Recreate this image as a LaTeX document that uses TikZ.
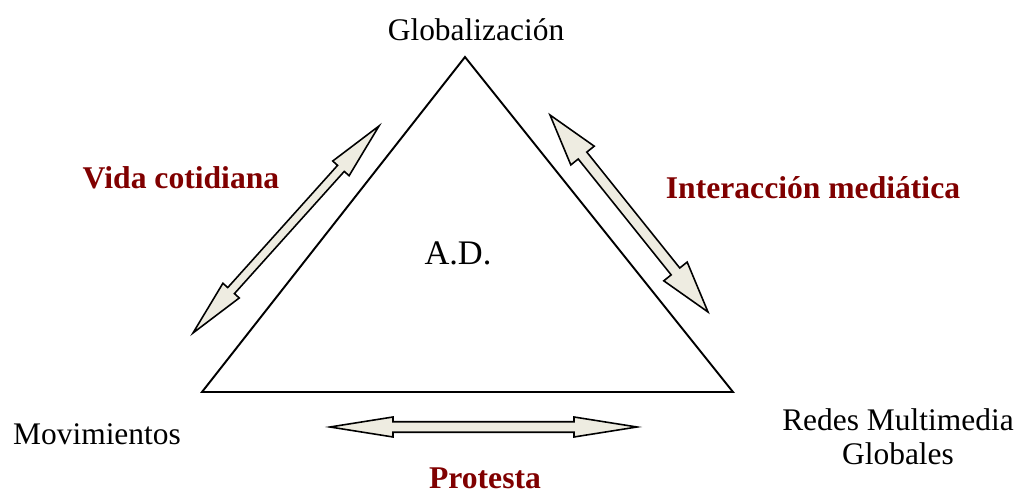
\documentclass[tikz,border=0pt]{standalone}
\usepackage{fontspec}
\setmainfont{Liberation Serif}
\usepackage{tikz}
\usetikzlibrary{calc}

\definecolor{tinto}{HTML}{800000}
\definecolor{crema}{HTML}{EEECE1}

\tikzset{
	vertice/.style = {font=\fontsize{17.9}{19.3}\selectfont, inner sep=0pt},
	eje/.style = {font=\bfseries\fontsize{18}{20}\selectfont, text=tinto, inner sep=0pt},
	flecha/.style = {draw=black, fill=crema, line width=0.9pt, line join=miter}
}

\begin{document}
\begin{tikzpicture}[x = 0.02cm, y = -0.02cm]
			\useasboundingbox (0,0) rectangle (1019,492);

			\begin{scope}
				\coordinate (glob) at (465,57);
				\coordinate (mov) at (202,392);
				\coordinate (red) at (733,392);
				\draw [line width = 1.1pt, line join = miter] (glob) -- (red) -- (mov) -- cycle;
			\end{scope}

			\begin{scope}[vertice, anchor = base]
				\node (globT) at (476,41) {Globalización};
				\node (movT) at (97,445) {Movimientos};
				\node [align = center, anchor = center] (redT) at (898,437) {Redes Multimedia\\Globales};
				\node [font = \fontsize{19.6}{22}\selectfont] (ad) at (458,265) {A.D.};
			\end{scope}

			\begin{scope}[eje, anchor = base]
				\node (vida) at (181,189) {Vida cotidiana};
				\node (inter) at (813,199) {Interacción mediática};
				\node (prot) at (485,489) {Protesta};
			\end{scope}

			% puntas de las flechas dobles
			\coordinate (vA) at (193,333);
			\coordinate (vB) at (379,126);
			\coordinate (iA) at (550,115);
			\coordinate (iB) at (708,312);
			\coordinate (pA) at (330,427);
			\coordinate (pB) at (637,427);

			% largo de punta / medio ancho de punta / medio ancho del cuerpo
			\foreach \a/\b/\hl/\hw/\sw in {vA/vB/1.14cm/0.22cm/0.09cm, iA/iB/1.04cm/0.3cm/0.11cm, pA/pB/1.26cm/0.2cm/0.105cm}
				\draw [flecha] (\a)
					-- ($(\a)!\hl!(\b)!\hw!90:(\b)$)
					-- ($(\a)!\hl!(\b)!\sw!90:(\b)$)
					-- ($(\b)!\hl!(\a)!\sw!-90:(\a)$)
					-- ($(\b)!\hl!(\a)!\hw!-90:(\a)$)
					-- (\b)
					-- ($(\b)!\hl!(\a)!\hw!90:(\a)$)
					-- ($(\b)!\hl!(\a)!\sw!90:(\a)$)
					-- ($(\a)!\hl!(\b)!\sw!-90:(\b)$)
					-- ($(\a)!\hl!(\b)!\hw!-90:(\b)$)
					-- cycle;
		\end{tikzpicture}
\end{document}
